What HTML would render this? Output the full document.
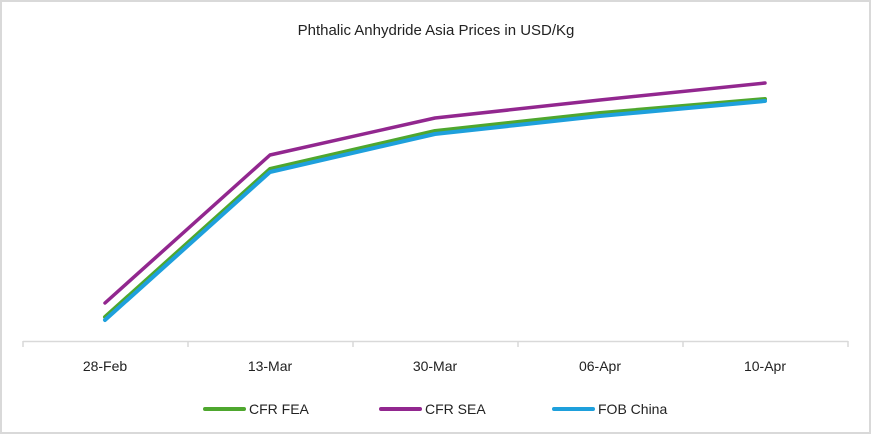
<!DOCTYPE html>
<html><head><meta charset="utf-8"><style>
html,body{margin:0;padding:0;background:#fff}
svg{display:block}
text{font-family:"Liberation Sans",sans-serif;fill:#222}
</style></head><body>
<svg width="871" height="434" viewBox="0 0 871 434" xmlns="http://www.w3.org/2000/svg">
<rect x="1" y="1" width="869" height="432" fill="#fff" stroke="#d9d9d9" stroke-width="2"/>
<text x="436" y="35" font-size="15" text-anchor="middle">Phthalic Anhydride Asia Prices in USD/Kg</text>
<g stroke="#d9d9d9" stroke-width="1.5" fill="none">
<line x1="23" y1="341.5" x2="848" y2="341.5"/>
<line x1="23" y1="341" x2="23" y2="347"/>
<line x1="188" y1="341" x2="188" y2="347"/>
<line x1="353" y1="341" x2="353" y2="347"/>
<line x1="518" y1="341" x2="518" y2="347"/>
<line x1="683" y1="341" x2="683" y2="347"/>
<line x1="848" y1="341" x2="848" y2="347"/>
</g>
<g font-size="14" text-anchor="middle">
<text x="105" y="371">28-Feb</text>
<text x="270" y="371">13-Mar</text>
<text x="435" y="371">30-Mar</text>
<text x="600" y="371">06-Apr</text>
<text x="765" y="371">10-Apr</text>
</g>
<g fill="none" stroke-linecap="round" stroke-linejoin="round" stroke-width="4">
<polyline stroke="#92278f" stroke-width="3.5" points="105,303 270,155 435,118 600,100 765,83"/>
<polyline stroke="#4ea72e" points="105,317 270,169 435,131 600,113 765,99"/>
<polyline stroke="#1ea0dc" points="105,320 270,172 435,134 600,116 765,101"/>
</g>
<g stroke-width="4" stroke-linecap="round">
<line x1="205" y1="409" x2="244" y2="409" stroke="#4ea72e"/>
<line x1="381" y1="409" x2="420" y2="409" stroke="#92278f"/>
<line x1="554" y1="409" x2="593" y2="409" stroke="#1ea0dc"/>
</g>
<g font-size="14">
<text x="249" y="414">CFR FEA</text>
<text x="425" y="414">CFR SEA</text>
<text x="598" y="414">FOB China</text>
</g>
</svg>
</body></html>
